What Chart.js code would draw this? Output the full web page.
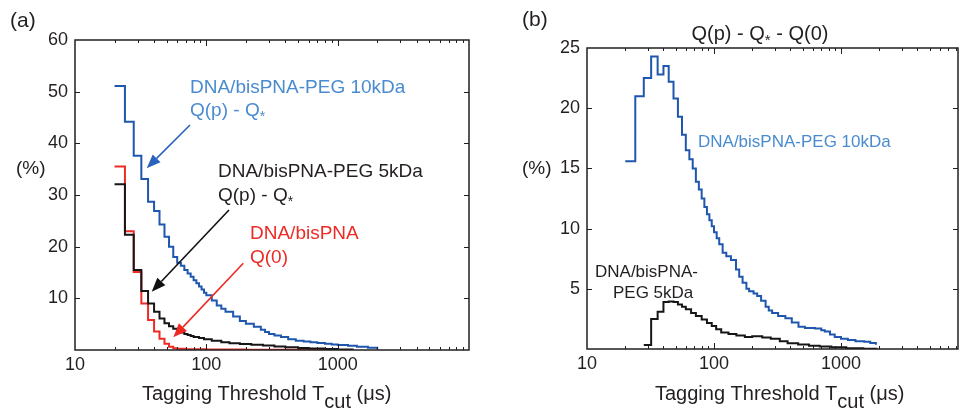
<!DOCTYPE html>
<html>
<head>
<meta charset="utf-8">
<script src="https://cdn.jsdelivr.net/npm/chart.js@4.4.1/dist/chart.umd.min.js"></script>
<style>
  html, body { margin: 0; padding: 0; background: #fff; overflow: hidden; }
  #wrap { position: relative; width: 962px; height: 413px; }
  #chartA { position: absolute; left: 0; top: 0; }
  #chartB { position: absolute; left: 480px; top: 0; }
</style>
</head>
<body>
<div id="wrap">
  <canvas id="chartA" width="480" height="413"></canvas>
  <canvas id="chartB" width="482" height="413"></canvas>
</div>
<script>
// ---- panel (a): Q(p) - Q* and Q(0), % vs tagging threshold (us) ----
const peg10kA_t = [20,24,28,32,36,40,44,48,52,56,60,64,68,72,76,80,84,88,92,96,100,
  110,120,130,140,160,180,200,230,260,280,300,330,370,420,480,550,620,700,800,900,1000,1200,1400,1700,2000];
const peg10kA_pct = [51.1,44.2,37.6,33.1,28.7,26.9,24.3,21.9,20.0,18.0,16.9,16.3,15.5,14.8,14.2,13.5,12.9,12.3,11.7,11.1,10.6,
  9.6,8.6,8.0,7.4,6.5,5.6,5.1,4.5,3.9,3.5,3.1,2.8,2.5,2.1,1.8,1.65,1.5,1.35,1.2,1.05,0.95,0.8,0.65,0.45,0.15];

const peg5kA_t = [20,24,28,32,36,40,44,48,52,56,60,64,68,72,76,80,
  88,96,110,130,150,180,220,270,330,400,500,600,800,1000,1300];
const peg5kA_pct = [32.1,22.3,15.5,11.4,9.0,7.4,6.1,5.2,4.6,4.1,3.7,3.4,3.1,2.9,2.7,2.5,
  2.3,2.1,1.8,1.5,1.3,1.15,1.0,0.85,0.7,0.55,0.4,0.3,0.18,0.1,0.05];

const bisA_t = [20,24,28,32,36,40,44,48,52,56,60,70,100,200,400,800];
const bisA_pct = [35.5,23.0,15.1,9.0,5.8,3.6,2.2,1.2,0.65,0.35,0.25,0.15,0.1,0.06,0.03,0.02];

// ---- panel (b): Q(p) - Q* - Q(0) ----
const peg10kB_t = [20,24,28,32,36,40,44,48,52,56,60,64,68,72,76,80,84,88,92,96,100,
  105,110,117,125,136,149,158,168,180,189,205,219,235,255,270,287,320,365,410,463,520,624,700,746,820,893,1000,1133,1300,1527,1700,1882];
const peg10kB_pct = [15.6,21.0,22.5,24.3,22.8,23.5,22.2,20.8,19.3,17.8,16.5,15.75,15.0,13.9,13.25,12.5,11.8,11.2,10.7,10.2,9.7,
  9.2,8.7,8.0,7.7,7.4,6.6,6.0,5.5,5.0,4.8,4.6,4.4,4.0,3.5,3.2,3.0,2.75,2.55,2.2,1.85,1.75,1.7,1.55,1.45,1.2,1.0,0.85,0.75,0.65,0.6,0.5,0.35];

const peg5kB_t = [28,32,36,40,44,48,52,56,60,66,72,80,88,96,104,114,130,150,175,200,240,280,330,380,460,560,680,840,1100,1500,1900];
const peg5kB_pct = [0.33,2.5,3.1,3.9,3.95,3.9,3.7,3.5,3.3,3.0,2.75,2.45,2.15,1.9,1.65,1.38,1.25,1.12,1.0,1.05,0.95,0.85,0.65,0.48,0.38,0.28,0.2,0.14,0.07,0.03,0.01];

const xTickLabels = [10, 100, 1000];
const yTicksA = [10, 20, 30, 40, 50, 60];
const yTicksB = [5, 10, 15, 20, 25];

const FONT = "'Liberation Sans', Arial, Helvetica, sans-serif";
const INK = "#231f20";
const BLUE_LINE = "#1f56ae";
const BLUE_TEXT = "#4a8bd0";
const RED = "#ee2a25";

Chart.defaults.font.family = FONT;

function pts(t, v) {
    return t.map((x, i) => ({ x: x, y: v[i] }));
}

function series(t, v, color) {
    return {
        data: pts(t, v),
        borderColor: color,
        borderWidth: 2,
        pointRadius: 0,
        stepped: "before",
        fill: false,
    };
}

// text with pieces of different size / vertical offset
function drawRich(ctx, segs, x, base, color, align) {
    ctx.fillStyle = color;
    ctx.textBaseline = "alphabetic";
    ctx.textAlign = "left";
    let w = 0;
    segs.forEach(s => { ctx.font = s.size + "px " + FONT; s.w = ctx.measureText(s.t).width; w += s.w; });
    let cx = align === "center" ? x - w / 2 : x;
    segs.forEach(s => {
        ctx.font = s.size + "px " + FONT;
        ctx.fillText(s.t, cx, base + (s.dy || 0));
        cx += s.w;
    });
}

function drawArrow(ctx, x1, y1, x2, y2, color) {
    const ang = Math.atan2(y2 - y1, x2 - x1);
    const hl = 14, hw = 5.5;
    const bx = x2 - hl * Math.cos(ang), by = y2 - hl * Math.sin(ang);
    ctx.strokeStyle = color;
    ctx.fillStyle = color;
    ctx.lineWidth = 1.6;
    ctx.beginPath();
    ctx.moveTo(x1, y1);
    ctx.lineTo(bx, by);
    ctx.stroke();
    ctx.beginPath();
    ctx.moveTo(x2, y2);
    ctx.lineTo(bx + hw * Math.sin(ang), by - hw * Math.cos(ang));
    ctx.lineTo(bx - hw * Math.sin(ang), by + hw * Math.cos(ang));
    ctx.closePath();
    ctx.fill();
}

// box round the plot with inward ticks, like the original
const frameTicks = {
    id: "frameTicks",
    afterDatasetsDraw(chart) {
        const { ctx, chartArea: a, scales: { x, y } } = chart;
        ctx.save();
        ctx.strokeStyle = INK;
        ctx.lineWidth = 1.5;
        ctx.strokeRect(a.left, a.top, a.right - a.left, a.bottom - a.top);
        ctx.lineWidth = 1;
        ctx.beginPath();
        for (let p = 1; p <= 4; p++) {
            for (let m = 1; m <= 9; m++) {
                const v = m * Math.pow(10, p);
                if (v <= x.min || v >= x.max) continue;
                const px = Math.round(x.getPixelForValue(v)) + 0.5;
                const len = m === 1 ? 6 : 3;
                ctx.moveTo(px, a.bottom); ctx.lineTo(px, a.bottom - len);
                ctx.moveTo(px, a.top); ctx.lineTo(px, a.top + len);
            }
        }
        y.ticks.forEach(t => {
            if (t.value <= y.min || t.value >= y.max) return;
            const py = Math.round(y.getPixelForValue(t.value)) + 0.5;
            ctx.moveTo(a.left, py); ctx.lineTo(a.left + 5, py);
            ctx.moveTo(a.right, py); ctx.lineTo(a.right - 5, py);
        });
        ctx.stroke();
        ctx.restore();
    }
};

const qStar = (size) => [{ t: "Q(p) - Q", size: size }, { t: "*", size: size - 5, dy: 5 }];
const xTitle = [{ t: "Tagging Threshold T", size: 20 }, { t: "cut", size: 20, dy: 8 }, { t: " (\u03bcs)", size: 20 }];

const notesA = {
    id: "notesA",
    afterDraw(chart) {
        const ctx = chart.ctx;
        ctx.save();
        drawRich(ctx, [{ t: "(a)", size: 21 }], 10, 26.5, INK);
        drawRich(ctx, [{ t: "(%)", size: 19 }], 16, 174, INK);
        drawRich(ctx, xTitle, 142, 399.5, INK);
        drawRich(ctx, [{ t: "DNA/bisPNA-PEG 10kDa", size: 19 }], 190, 92.5, BLUE_TEXT);
        drawRich(ctx, qStar(19), 190, 116, BLUE_TEXT);
        drawRich(ctx, [{ t: "DNA/bisPNA-PEG 5kDa", size: 19 }], 218, 177.3, INK);
        drawRich(ctx, qStar(19), 218, 201, INK);
        drawRich(ctx, [{ t: "DNA/bisPNA", size: 19 }], 250, 239.3, RED);
        drawRich(ctx, [{ t: "Q(0)", size: 19 }], 250, 263, RED);
        drawArrow(ctx, 190, 125, 146.7, 168.3, "#2a63bd");
        drawArrow(ctx, 229, 210, 151.7, 291.7, "#111");
        drawArrow(ctx, 243.3, 263.3, 173.3, 337.3, RED);
        ctx.restore();
    }
};

const notesB = {
    id: "notesB",
    afterDraw(chart) {
        const ctx = chart.ctx;
        const ox = 480;
        ctx.save();
        drawRich(ctx, [{ t: "(b)", size: 21 }], 522 - ox, 26, INK);
        drawRich(ctx, [{ t: "(%)", size: 19 }], 522 - ox, 174, INK);
        drawRich(ctx, [{ t: "Q(p) - Q", size: 20 }, { t: "*", size: 15, dy: 5 }, { t: " - Q(0)", size: 20 }], 760 - ox, 39.5, INK, "center");
        drawRich(ctx, xTitle, 655 - ox, 399.5, INK);
        drawRich(ctx, [{ t: "DNA/bisPNA-PEG 10kDa", size: 17 }], 698 - ox, 147.3, BLUE_TEXT);
        drawRich(ctx, [{ t: "DNA/bisPNA-", size: 17 }], 595 - ox, 276.7, INK);
        drawRich(ctx, [{ t: "PEG 5kDa", size: 17 }], 613 - ox, 297.7, INK);
        ctx.restore();
    }
};

function xAxis(max, h) {
    return {
        type: "logarithmic",
        min: 10,
        max: max,
        grid: { display: false, drawTicks: false, tickLength: 0 },
        border: { display: false },
        ticks: {
            autoSkip: false,
            maxRotation: 0,
            padding: 4,
            color: INK,
            font: { size: 18 },
            callback: (v) => xTickLabels.includes(Math.round(v)) && Math.abs(v - Math.round(v)) < 1e-6 ? String(Math.round(v)) : "",
        },
        afterFit: (s) => { s.height = h; },
    };
}

function yAxis(max, step, labels, w) {
    return {
        min: 0,
        max: max,
        grid: { display: false, drawTicks: false, tickLength: 0 },
        border: { display: false },
        ticks: {
            stepSize: step,
            padding: 7,
            color: INK,
            font: { size: 18 },
            callback: (v) => labels.includes(v) ? String(v) : "",
        },
        afterFit: (s) => { s.width = w; },
    };
}

const common = {
    responsive: false,
    animation: false,
    events: [],
    plugins: { legend: { display: false }, tooltip: { enabled: false } },
};

new Chart(document.getElementById("chartA"), {
    type: "line",
    data: {
        datasets: [
            series(peg10kA_t, peg10kA_pct, BLUE_LINE),
            series(peg5kA_t, peg5kA_pct, "#161616"),
            series(bisA_t, bisA_pct, RED),
        ],
    },
    options: Object.assign({}, common, {
        layout: { padding: { top: 40, right: 11, bottom: 0, left: 0 } },
        scales: { x: xAxis(10000, 63), y: yAxis(60, 10, yTicksA, 75) },
    }),
    plugins: [frameTicks, notesA],
});

new Chart(document.getElementById("chartB"), {
    type: "line",
    data: {
        datasets: [
            series(peg10kB_t, peg10kB_pct, BLUE_LINE),
            series(peg5kB_t, peg5kB_pct, "#161616"),
        ],
    },
    options: Object.assign({}, common, {
        layout: { padding: { top: 48, right: 1, bottom: 0, left: 0 } },
        scales: { x: xAxis(8350, 64), y: yAxis(25, 5, yTicksB, 107) },
    }),
    plugins: [frameTicks, notesB],
});
</script>
</body>
</html>
